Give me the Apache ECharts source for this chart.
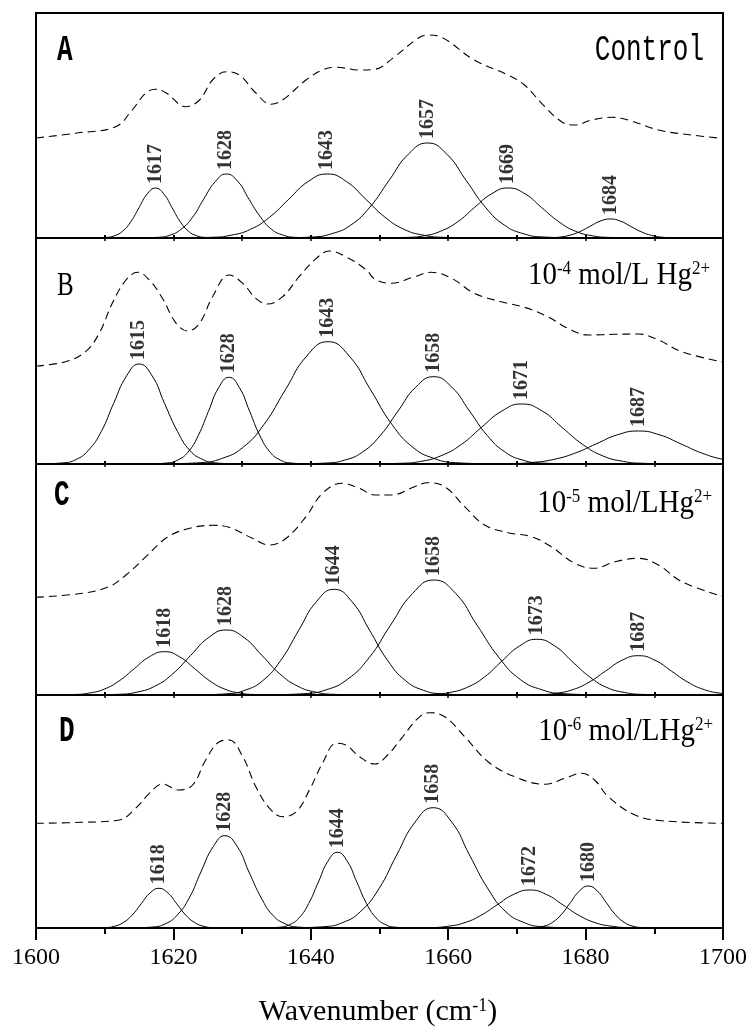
<!DOCTYPE html>
<html><head><meta charset="utf-8">
<script src="https://cdn.jsdelivr.net/npm/echarts@6/dist/echarts.min.js"></script>
<style>html,body{margin:0;padding:0;background:#fff}#c{width:750px;height:1032px}</style>
</head><body><div id="c"></div>
<script>
// x axis (wavenumber, cm-1)
const xMin = 1600, xMax = 1700;
const xTickLabels = ['1600','1620','1640','1660','1680','1700'];
const panelLetters = ['A','B','C','D'];
const panelNotes = ['Control','10^-4 mol/L Hg^2+','10^-5 mol/LHg^2+','10^-6 mol/LHg^2+'];

// ---------- Panel A (Control) ----------
const dashA = [[1600,100],[1606,105],[1611.6,111.3],[1614.0,128],[1616.0,145],[1617.4,148.7],[1618.9,145.3],[1621.8,131.3],[1623.8,138],[1625.7,158],[1627.7,166.3],[1629.6,163],[1632.0,145],[1634.2,133.7],[1635.9,138],[1639.3,158],[1641.7,168],[1643.7,170.7],[1647.1,168],[1649.3,168.7],[1652.2,181.3],[1655.6,199.7],[1657.0,203],[1659.0,200.7],[1663.8,178],[1668.7,163],[1671.1,153],[1673.6,134.7],[1676.5,116.3],[1678.4,113],[1680.9,118],[1683.8,120.7],[1686.2,118],[1690.6,108],[1695.4,103],[1700,99.5]];
const labelsA = ['1617','1628','1643','1657','1669','1684'];
const peakA1 = [[1607.8,0],[1610.2,0.6],[1611.4,2.2],[1612.6,6.8],[1613.8,16.3],[1615.0,30.4],[1616.2,44.1],[1617.4,50],[1618.6,44.1],[1619.8,30.4],[1621.0,16.3],[1622.2,6.8],[1623.4,2.2],[1624.6,0.6],[1627.0,0]];
const peakA2 = [[1614.5,0],[1617.8,0.7],[1619.5,2.8],[1621.1,8.6],[1622.8,20.8],[1624.4,38.8],[1626.1,56.4],[1627.7,64],[1629.4,56.4],[1631.0,38.8],[1632.7,20.8],[1634.3,8.6],[1636.0,2.8],[1637.6,0.7],[1640.9,0]];
const peakA3 = [[1620.0,0],[1625.6,0.7],[1628.4,2.8],[1631.2,8.6],[1634.0,20.8],[1636.8,38.8],[1639.6,56.4],[1642.4,64],[1645.2,56.4],[1648.0,38.8],[1650.8,20.8],[1653.6,8.6],[1656.4,2.8],[1659.2,0.7],[1664.8,0]];
const peakA4 = [[1634.6,0],[1640.2,1.0],[1643.0,4.2],[1645.8,12.8],[1648.6,30.9],[1651.4,57.7],[1654.2,83.8],[1657.0,95],[1659.8,83.8],[1662.6,57.7],[1665.4,30.9],[1668.2,12.8],[1671.0,4.2],[1673.8,1.0],[1679.4,0]];
const peakA5 = [[1649.1,0],[1654.0,0.6],[1656.5,2.2],[1658.9,6.8],[1661.4,16.3],[1663.8,30.4],[1666.3,44.1],[1668.7,50],[1671.2,44.1],[1673.6,30.4],[1676.1,16.3],[1678.5,6.8],[1681.0,2.2],[1683.4,0.6],[1688.3,0]];
const peakA6 = [[1671.6,0],[1674.6,0.2],[1676.1,0.8],[1677.6,2.6],[1679.1,6.2],[1680.6,11.5],[1682.1,16.8],[1683.6,19],[1685.1,16.8],[1686.6,11.5],[1688.1,6.2],[1689.6,2.6],[1691.1,0.8],[1692.6,0.2],[1695.6,0]];

// ---------- Panel B (1e-4 mol/L) ----------
const dashB = [[1600,98],[1604.3,102.3],[1607.2,112.3],[1609.2,130.7],[1611.1,160.7],[1613.1,184],[1614.8,191.7],[1616.5,184],[1618.4,165.7],[1620.4,140.7],[1622.1,133],[1623.8,140.7],[1625.7,167.3],[1628.1,189],[1630.1,180.7],[1632.0,165.7],[1633.7,160],[1635.9,167.3],[1638.3,187.3],[1640.8,205.7],[1642.7,213],[1645.1,207.3],[1648.1,194],[1649.3,185],[1651.7,180.7],[1655.1,187.3],[1657.5,191.7],[1660.5,185.7],[1663.8,170.7],[1667.7,162.3],[1671.1,156.7],[1674.5,147.3],[1677.4,135.7],[1680.4,129],[1684.3,129.7],[1687.7,130],[1690.6,124],[1694.0,112.3],[1700,102]];
const labelsB = ['1615','1628','1643','1658','1671','1687'];
const peakB1 = [[1600.2,0],[1603.9,1.1],[1605.8,4.4],[1607.6,13.5],[1609.5,32.5],[1611.3,60.7],[1613.2,88.2],[1615.0,100],[1616.9,88.2],[1618.7,60.7],[1620.6,32.5],[1622.4,13.5],[1624.3,4.4],[1626.1,1.1],[1629.8,0]];
const peakB2 = [[1616.1,0],[1619.1,1.0],[1620.6,3.8],[1622.1,11.7],[1623.6,28.2],[1625.1,52.6],[1626.6,76.5],[1628.1,86.7],[1629.6,76.5],[1631.1,52.6],[1632.6,28.2],[1634.1,11.7],[1635.6,3.8],[1637.1,1.0],[1640.1,0]];
const peakB3 = [[1617.7,0],[1623.9,1.3],[1627.0,5.4],[1630.1,16.5],[1633.2,39.7],[1636.3,74.2],[1639.4,107.9],[1642.5,122.3],[1645.6,107.9],[1648.7,74.2],[1651.8,39.7],[1654.9,16.5],[1658.0,5.4],[1661.1,1.3],[1667.3,0]];
const peakB4 = [[1637.1,0],[1642.3,1.0],[1644.9,3.8],[1647.5,11.8],[1650.1,28.4],[1652.7,53.0],[1655.3,77.0],[1657.9,87.3],[1660.5,77.0],[1663.1,53.0],[1665.7,28.4],[1668.3,11.8],[1670.9,3.8],[1673.5,1.0],[1678.7,0]];
const peakB5 = [[1647.1,0],[1653.0,0.7],[1656.0,2.6],[1658.9,8.1],[1661.9,19.5],[1664.8,36.4],[1667.8,52.9],[1670.7,60],[1673.7,52.9],[1676.6,36.4],[1679.6,19.5],[1682.5,8.1],[1685.5,2.6],[1688.4,0.7],[1694.3,0]];
const peakB6 = [[1662.9,0],[1669.1,0.4],[1672.2,1.5],[1675.3,4.5],[1678.4,10.7],[1681.5,20.0],[1684.6,29.1],[1687.7,33],[1690.8,29.1],[1693.9,20.0],[1697.0,10.7],[1700.1,4.5],[1703.2,1.5],[1706.3,0.4],[1712.5,0]];

// ---------- Panel C (1e-5 mol/L) ----------
const dashC = [[1600,97.7],[1606.7,101.7],[1610.6,108.3],[1613.1,120],[1616.0,138.3],[1618.9,156.7],[1621.8,165.7],[1625.7,169.7],[1628.1,167.7],[1631.5,156.7],[1634.0,150],[1636.4,156.7],[1639.3,178.3],[1641.7,201.7],[1644.6,211.7],[1647.1,206.7],[1649.3,200],[1651.7,200],[1655.1,208.3],[1657.0,212.3],[1659.5,208.3],[1662.4,188.3],[1665.3,170],[1668.7,162.3],[1672.1,158.3],[1675.0,148.3],[1678.4,131.7],[1681.3,126.7],[1684.3,133.3],[1687.7,136.7],[1690.6,130],[1694.0,113.3],[1700,98.5]];
const labelsC = ['1618','1628','1644','1658','1673','1687'];
const peakC1 = [[1601.1,0],[1605.5,0.5],[1607.7,1.9],[1609.9,5.8],[1612.1,14.1],[1614.3,26.3],[1616.5,38.2],[1618.7,43.3],[1620.9,38.2],[1623.1,26.3],[1625.3,14.1],[1627.5,5.8],[1629.7,1.9],[1631.9,0.5],[1636.3,0]];
const peakC2 = [[1606.9,0],[1612.1,0.7],[1614.7,2.9],[1617.3,8.8],[1619.9,21.1],[1622.5,39.5],[1625.1,57.3],[1627.7,65],[1630.3,57.3],[1632.9,39.5],[1635.5,21.1],[1638.1,8.8],[1640.7,2.9],[1643.3,0.7],[1648.5,0]];
const peakC3 = [[1622.6,0],[1627.8,1.2],[1630.4,4.7],[1633.0,14.3],[1635.6,34.4],[1638.2,64.2],[1640.8,93.2],[1643.4,105.7],[1646.0,93.2],[1648.6,64.2],[1651.2,34.4],[1653.8,14.3],[1656.4,4.7],[1659.0,1.2],[1664.2,0]];
const peakC4 = [[1632.7,0],[1639.0,1.3],[1642.2,5.1],[1645.3,15.5],[1648.5,37.4],[1651.6,69.8],[1654.8,101.4],[1657.9,115],[1661.1,101.4],[1664.2,69.8],[1667.4,37.4],[1670.5,15.5],[1673.7,5.1],[1676.8,1.3],[1683.1,0]];
const peakC5 = [[1652.5,0],[1657.6,0.6],[1660.2,2.5],[1662.7,7.5],[1665.3,18.1],[1667.8,33.8],[1670.4,49.1],[1672.9,55.7],[1675.5,49.1],[1678.0,33.8],[1680.6,18.1],[1683.1,7.5],[1685.7,2.5],[1688.2,0.6],[1693.3,0]];
const peakC6 = [[1668.5,0],[1673.3,0.4],[1675.7,1.7],[1678.1,5.3],[1680.5,12.8],[1682.9,23.9],[1685.3,34.7],[1687.7,39.3],[1690.1,34.7],[1692.5,23.9],[1694.9,12.8],[1697.3,5.3],[1699.7,1.7],[1702.1,0.4],[1706.9,0]];

// ---------- Panel D (1e-6 mol/L) ----------
const dashD = [[1600,104.7],[1606.7,105.7],[1612.1,108],[1614.5,119.7],[1616.5,134.7],[1618.4,144],[1620.8,138],[1622.8,143],[1624.7,168],[1626.7,186.3],[1628.1,188],[1630.1,171.3],[1632.0,141.3],[1634.0,119.7],[1635.9,111.3],[1637.9,116.3],[1639.8,138],[1641.7,164.7],[1643.7,184.7],[1645.1,183],[1647.1,171.3],[1649.3,164],[1651.2,173],[1653.2,189.7],[1655.6,209.7],[1657.3,215.3],[1659.5,211.3],[1662.4,191.3],[1665.8,166.3],[1669.7,151.3],[1674.1,143.7],[1677.0,149.7],[1679.4,154.7],[1681.3,148],[1683.3,131.3],[1687.2,113],[1691.1,107.3],[1700,104.7]];
const labelsD = ['1618','1628','1644','1658','1672','1680'];
const peakD1 = [[1607.5,0],[1610.1,0.4],[1611.4,1.7],[1612.7,5.4],[1614.0,12.9],[1615.3,24.1],[1616.6,35.0],[1617.9,39.7],[1619.2,35.0],[1620.5,24.1],[1621.8,12.9],[1623.1,5.4],[1624.4,1.7],[1625.7,0.4],[1628.3,0]];
const peakD2 = [[1613.5,0],[1617.0,1.0],[1618.8,4.1],[1620.5,12.5],[1622.3,30.0],[1624.0,56.0],[1625.8,81.4],[1627.5,92.3],[1629.3,81.4],[1631.0,56.0],[1632.8,30.0],[1634.5,12.5],[1636.3,4.1],[1638.0,1.0],[1641.5,0]];
const peakD3 = [[1632.7,0],[1635.5,0.8],[1636.9,3.3],[1638.3,10.2],[1639.7,24.6],[1641.1,45.9],[1642.5,66.8],[1643.9,75.7],[1645.3,66.8],[1646.7,45.9],[1648.1,24.6],[1649.5,10.2],[1650.9,3.3],[1652.3,0.8],[1655.1,0]];
const peakD4 = [[1636.6,0],[1641.9,1.3],[1644.6,5.3],[1647.2,16.2],[1649.9,39.1],[1652.5,73.0],[1655.2,106.1],[1657.8,120.3],[1660.5,106.1],[1663.1,73.0],[1665.8,39.1],[1668.4,16.2],[1671.1,5.3],[1673.7,1.3],[1679.0,0]];
const peakD5 = [[1652.7,0],[1657.5,0.4],[1659.9,1.7],[1662.3,5.1],[1664.7,12.4],[1667.1,23.1],[1669.5,33.5],[1671.9,38],[1674.3,33.5],[1676.7,23.1],[1679.1,12.4],[1681.5,5.1],[1683.9,1.7],[1686.3,0.4],[1691.1,0]];
const peakD6 = [[1670.0,0],[1672.6,0.5],[1673.9,1.8],[1675.2,5.7],[1676.5,13.7],[1677.8,25.5],[1679.1,37.0],[1680.4,42],[1681.7,37.0],[1683.0,25.5],[1684.3,13.7],[1685.6,5.7],[1686.9,1.8],[1688.2,0.5],[1690.8,0]];

const panels = [
  {dash: dashA, peaks: [peakA1,peakA2,peakA3,peakA4,peakA5,peakA6], labels: labelsA},
  {dash: dashB, peaks: [peakB1,peakB2,peakB3,peakB4,peakB5,peakB6], labels: labelsB},
  {dash: dashC, peaks: [peakC1,peakC2,peakC3,peakC4,peakC5,peakC6], labels: labelsC},
  {dash: dashD, peaks: [peakD1,peakD2,peakD3,peakD4,peakD5,peakD6], labels: labelsD}
];

// layout (pixels)
const gridBoxes = [{top:13,height:225},{top:238,height:226},{top:464,height:231},{top:695,height:233}];

const chart = echarts.init(document.getElementById('c'), null, {renderer:'canvas'});
const grid = [], xAxis = [], yAxis = [], series = [];
const SERIF = '"Liberation Serif","Times New Roman",serif';
const MONO = '"Liberation Mono","Courier New",monospace';

gridBoxes.forEach((g, i) => {
  grid.push({left:36, right:27, top:g.top, height:g.height, show:true, borderColor:'#000', borderWidth:2, backgroundColor:'transparent'});
  const last = i === gridBoxes.length - 1;
  xAxis.push({
    type:'value', gridIndex:i, min:xMin, max:xMax, interval: last ? 20 : 10, position:'bottom',
    axisLine:{show:last, onZero:false, lineStyle:{color:'#000', width:2}},
    axisTick:{show:true, inside:!last, length: last ? 12 : 3, lineStyle:{color:'#000', width:2}},
    minorTick:{show:last, splitNumber:2, length:6, lineStyle:{color:'#000', width:2}},
    axisLabel:{show:last, fontFamily:SERIF, fontSize:24, color:'#000', margin:18,
      formatter: v => xTickLabels.includes(String(v)) ? String(v) : ''},
    splitLine:{show:false}
  });
  xAxis.push({
    type:'value', gridIndex:i, min:xMin, max:xMax, interval:10, position:'top',
    axisLine:{show:false}, axisTick:{show:true, inside:true, length:3, lineStyle:{color:'#000', width:1.5}},
    axisLabel:{show:false}, splitLine:{show:false}
  });
  yAxis.push({type:'value', gridIndex:i, min:0, max:g.height, show:false, splitLine:{show:false}});
});

panels.forEach((p, i) => {
  series.push({type:'line', xAxisIndex:2*i, yAxisIndex:i, data:p.dash, smooth:0.4, symbol:'none', silent:true,
    lineStyle:{color:'#000', width:1.1, type:[8,5]}, z:3});
  p.peaks.forEach(pk => series.push({type:'line', xAxisIndex:2*i, yAxisIndex:i, data:pk, smooth:0.5, symbol:'none', silent:true,
    lineStyle:{color:'#000', width:1}, z:3}));
  const tops = p.peaks.map((pk, j) => {
    const m = pk.reduce((a, b) => b[1] > a[1] ? b : a);
    return {value:[m[0], m[1]], name:p.labels[j]};
  });
  series.push({type:'scatter', xAxisIndex:2*i, yAxisIndex:i, data:tops, symbolSize:0, silent:true, z:4,
    label:{show:true, formatter:'{b}', position:'top', distance:4, rotate:90, align:'left', verticalAlign:'middle',
      fontFamily:SERIF, fontWeight:'bold', fontSize:20, color:'#000'}});
});

function noteRich(t){
  const m = t.match(/^10\^(-\d) (.*)\^(.*)$/);
  return '{n|10}{s|' + m[1] + '}{n| ' + m[2] + '}{s|' + m[3] + '}';
}

const letterPos = [{x:57,y:51,font:MONO,size:26,sy:1.45},{x:57,y:286,font:SERIF,size:25,sy:1.33},{x:54,y:496,font:MONO,size:26,sy:1.45},{x:59,y:732,font:MONO,size:26,sy:1.45}];
const notePos = [{x:704,y:50},{x:710,y:276},{x:712,y:504},{x:713,y:732}];
const graphic = [];
panelLetters.forEach((L, i) => {
  const lp = letterPos[i];
  graphic.push({type:'text', x:lp.x, y:lp.y, scaleY:lp.sy, silent:true,
    style:{text:L, font:(i === 1 ? '' : 'bold ') + lp.size + 'px ' + lp.font, fill:'#000', align:'left', verticalAlign:'middle', textAlign:'left', textVerticalAlign:'middle'}});
});
graphic.push({type:'text', x:notePos[0].x, y:notePos[0].y, scaleY:1.45, silent:true,
  style:{text:panelNotes[0], font:'26px ' + MONO, fill:'#000', align:'right', verticalAlign:'middle', textAlign:'right', textVerticalAlign:'middle'}});
for (let i = 1; i < 4; i++) {
  graphic.push({type:'text', x:notePos[i].x, y:notePos[i].y, scaleY:1.1, silent:true,
    style:{text:noteRich(panelNotes[i]), fill:'#000', align:'right', verticalAlign:'middle', textAlign:'right', textVerticalAlign:'middle',
      rich:{n:{fontFamily:SERIF, fontSize:29, fill:'#000', color:'#000'}, s:{fontFamily:SERIF, fontSize:17, fill:'#000', color:'#000', verticalAlign:'top'}}}});
}
graphic.push({type:'text', x:378, y:1012, silent:true,
  style:{text:'{n|Wavenumber (cm}{s|-1}{n|)}', fill:'#000', align:'center', verticalAlign:'middle', textAlign:'center', textVerticalAlign:'middle',
    rich:{n:{fontFamily:SERIF, fontSize:30, fill:'#000', color:'#000'}, s:{fontFamily:SERIF, fontSize:18, fill:'#000', color:'#000', verticalAlign:'top'}}}});

chart.setOption({animation:false, backgroundColor:'#fff', grid, xAxis, yAxis, series, graphic});
</script></body></html>
